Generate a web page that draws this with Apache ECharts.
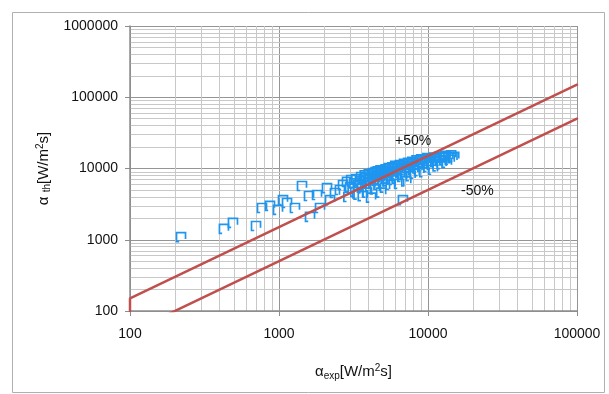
<!DOCTYPE html>
<html><head><meta charset="utf-8">
<script src="https://cdn.jsdelivr.net/npm/echarts@6/dist/echarts.min.js"></script>
<style>html,body{margin:0;padding:0;background:#fff}#c{width:609px;height:394px}</style>
</head><body><div id="c"></div>
<script>
// Tick labels / axis ranges
const xTicks = [100, 1000, 10000, 100000];
const yTicks = [100, 1000, 10000, 100000, 1000000];
const xMinorGrid = [200,300,400,500,600,700,800,900,2000,3000,4000,5000,6000,7000,8000,9000,20000,30000,40000,50000,60000,70000,80000,90000];
const yMinorGrid = [200,300,400,500,600,700,800,900,2000,3000,4000,5000,6000,7000,8000,9000,20000,30000,40000,50000,60000,70000,80000,90000,200000,300000,400000,500000,600000,700000,800000,900000];

// Reference lines (+50% / -50%)
const plus50 = [[100, 100], [100, 150], [100000, 150000]];
const minus50 = [[100, 50], [100000, 50000]];
const lineLabels = ['+50%', '-50%'];

// Scatter: alpha_exp vs alpha_th
const points = [
 [220,1090],[427,1420],[491,1720],[701,1560],[769,2790],[870,2980],[985,2620],[1064,3610],[1132,3280],[1280,2790],
 [1427,5680],[1590,4110],[1615,2090],[1800,4250],[1885,2790],[2100,5320],[2200,3610],[2375,4530],[2565,4990],[2690,5870],
 [2860,6470],[3000,5500],[2920,3980],[6790,3610],
 [3050,6900],[3120,5200],[3200,6200],[3250,4700],[3300,7100],[3380,5800],[3420,4300],[3500,6600],[3560,7600],[3600,5400],
 [3650,4100],[3700,6900],[3760,8000],[3800,5900],[3850,7300],[3900,4600],[3950,6400],[4000,8300],[4050,7000],[4100,5600],
 [4150,3900],[4200,7800],[4260,8600],[4300,6300],[4350,7200],[4400,5100],[4450,8900],[4500,7600],[4560,6700],[4600,9100],
 [4650,5900],[4700,8200],[4760,7100],[4800,9400],[4850,4600],[4900,8600],[4950,7700],[5000,6200],[5050,9200],[5100,8100],
 [5150,5400],[5200,9700],[5260,7300],[5320,8800],[5400,6600],[5450,10100],[5500,8400],[5560,9300],[5620,5900],[5700,7800],
 [5760,10400],[5830,8900],[5900,6900],[5960,9800],[6030,10900],[6100,8300],[6170,7200],[6250,10200],[6320,9100],[6400,6100],
 [6480,11200],[6560,8700],[6640,9900],[6720,7600],[6800,10700],[6900,11600],[6980,8400],[7070,9500],[7150,6600],[7250,11000],
 [7350,12000],[7450,9000],[7550,10300],[7650,7800],[7750,11700],[7850,12400],[7950,9600],[8050,10900],[8150,8500],[8260,12100],
 [8380,13000],[8500,10000],[8620,11400],[8750,9200],[8880,12700],[9000,13400],[9150,10600],[9300,11900],[9450,8900],[9600,13100],
 [9750,12200],[9900,14000],[10050,10500],[10200,12800],[10400,13700],[10600,11300],[10800,9600],[11000,14200],[11200,12300],[11400,13400],
 [11600,10700],[11850,14600],[12100,12900],[12350,11500],[12600,14100],[12850,13000],[13100,15000],[13400,12000],[13700,14300],[14000,13200],
 [14300,15300],[14600,14000],[15000,14600]
];

const FONT = 'Liberation Sans';
const chart = echarts.init(document.getElementById('c'), null, {renderer: 'canvas'});
const minorLine = {color: '#c8c8c8', width: 1, type: 'solid'};
const redLine = {color: '#c0504d', width: 2.5, type: 'solid', cap: 'round'};
chart.setOption({
  animation: false,
  backgroundColor: '#fff',
  textStyle: {fontFamily: FONT},
  graphic: [
    {type: 'rect', left: 10, top: 10, shape: {width: 592, height: 380}, style: {fill: 'none', stroke: '#b0b0b0', lineWidth: 1}, silent: true, z: -10},
    {type: 'text', left: 395, top: 134, z: 10, style: {text: lineLabels[0], fontSize: 14, fontFamily: FONT, fill: '#111'}},
    {type: 'text', left: 461, top: 184, z: 10, style: {text: lineLabels[1], fontSize: 14, fontFamily: FONT, fill: '#111'}}
  ],
  grid: {left: 130, right: 32, top: 26, bottom: 83, containLabel: false},
  xAxis: {
    type: 'log', logBase: 10, min: xTicks[0], max: xTicks[xTicks.length - 1],
    name: '{a|α}{sub|exp}{a|[W/m}{sup|2}{a|s]}', nameLocation: 'middle', nameGap: 52,
    nameTextStyle: {rich: {
      a: {fontSize: 15, fontFamily: FONT, color: '#111'},
      sub: {fontSize: 10, fontFamily: FONT, color: '#111', padding: [8, 0, 0, 0]},
      sup: {fontSize: 10, fontFamily: FONT, color: '#111', padding: [0, 0, 7, 0]}
    }},
    axisLine: {show: true, lineStyle: {color: '#8c8c8c', width: 1.5}},
    axisTick: {show: true, inside: false, length: 5, lineStyle: {color: '#8c8c8c'}},
    axisLabel: {fontSize: 14, fontFamily: FONT, color: '#111', margin: 16, formatter: v => String(Math.round(v))},
    splitLine: {show: true, lineStyle: {color: '#959595', width: 1}}
  },
  yAxis: {
    type: 'log', logBase: 10, min: yTicks[0], max: yTicks[yTicks.length - 1],
    name: '{a|α }{sub|th}{a|[W/m}{sup|2}{a|s]}', nameLocation: 'middle', nameGap: 76, nameRotate: 90,
    nameTextStyle: {rich: {
      a: {fontSize: 15, fontFamily: FONT, color: '#111'},
      sub: {fontSize: 10, fontFamily: FONT, color: '#111', padding: [8, 0, 0, 0]},
      sup: {fontSize: 10, fontFamily: FONT, color: '#111', padding: [0, 0, 7, 0]}
    }},
    axisLine: {show: true, lineStyle: {color: '#8c8c8c', width: 1.5}},
    axisTick: {show: true, inside: false, length: 5, lineStyle: {color: '#8c8c8c'}},
    axisLabel: {fontSize: 14, fontFamily: FONT, color: '#111', margin: 12, formatter: v => String(Math.round(v))},
    splitLine: {show: true, lineStyle: {color: '#959595', width: 1}}
  },
  series: [
    {
      type: 'scatter', data: [], z: 0, silent: true,
      markLine: {
        silent: true, symbol: 'none', label: {show: false}, animation: false, z: 0,
        lineStyle: minorLine,
        emphasis: {disabled: true},
        data: xMinorGrid.map(v => ({xAxis: v})).concat(yMinorGrid.map(v => ({yAxis: v})))
      }
    },
    {
      type: 'scatter', data: points, z: 3,
      symbol: 'path://M3,10 L0,10 L0,0 L10,0 L10,7',
      symbolSize: [9, 9],
      itemStyle: {color: 'rgba(0,0,0,0)', borderColor: '#1e96f0', borderWidth: 1.7, opacity: 1}
    },
    {
      type: 'line', data: plus50, z: 4, symbol: 'none', silent: true,
      lineStyle: redLine
    },
    {
      type: 'line', data: minus50, z: 4, symbol: 'none', silent: true,
      lineStyle: redLine
    }
  ]
});
</script>
</body></html>
